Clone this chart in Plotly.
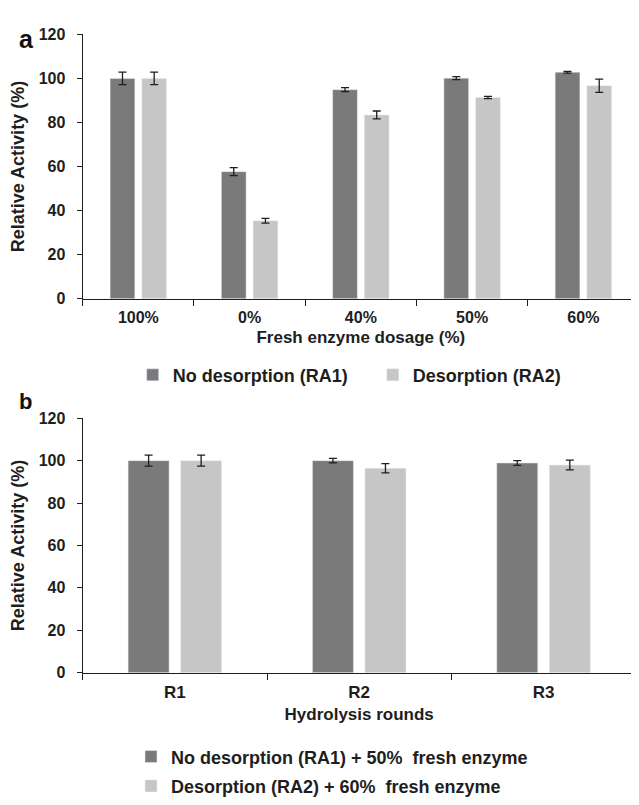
import plotly.graph_objects as go

# Panel a data
cats_a = ["100%", "0%", "40%", "50%", "60%"]
ra1_a = [100.0, 57.7, 94.9, 100.1, 102.8]
ra1_a_err = [2.8, 1.8, 0.9, 0.7, 0.4]
ra2_a = [100.0, 35.4, 83.4, 91.3, 96.7]
ra2_a_err = [2.8, 1.1, 1.8, 0.5, 3.0]

# Panel b data
cats_b = ["R1", "R2", "R3"]
ra1_b = [100.0, 100.0, 98.9]
ra1_b_err = [2.6, 1.1, 1.1]
ra2_b = [100.0, 96.4, 97.9]
ra2_b_err = [2.6, 2.2, 2.3]

y_ticks = [0, 20, 40, 60, 80, 100, 120]

DARK = "#7a7a7a"
LIGHT = "#c6c6c6"
INK = "#1e1e1e"
FONT = "Liberation Sans, Arial, sans-serif"

# page has an 8px body margin; figure sized to fit the 639x805 window
OFF = 8
W, H = 631, 797

def px(X):
    return (X - OFF) / W

def py(Y):
    return 1 - (Y - OFF) / H

def err(vals):
    return dict(type="data", array=vals, visible=True, color=INK, thickness=1.3, width=4)

fig = go.Figure()
fig.add_trace(go.Bar(x=cats_a, y=ra1_a, error_y=err(ra1_a_err), marker_color=DARK,
                     name="No desorption (RA1)", xaxis="x", yaxis="y", legend="legend"))
fig.add_trace(go.Bar(x=cats_a, y=ra2_a, error_y=err(ra2_a_err), marker_color=LIGHT,
                     name="Desorption (RA2)", xaxis="x", yaxis="y", legend="legend2"))
fig.add_trace(go.Bar(x=cats_b, y=ra1_b, error_y=err(ra1_b_err), marker_color=DARK,
                     name="No desorption (RA1) + 50%\u00a0 fresh enzyme", xaxis="x2", yaxis="y2",
                     legend="legend3"))
fig.add_trace(go.Bar(x=cats_b, y=ra2_b, error_y=err(ra2_b_err), marker_color=LIGHT,
                     name="Desorption (RA2) + 60%\u00a0 fresh enzyme", xaxis="x2", yaxis="y2",
                     legend="legend4"))

common_y = dict(range=[0, 120], tickvals=y_ticks, showgrid=False, zeroline=False,
                showline=True, linecolor=INK, linewidth=1.2, ticks="outside", ticklen=5,
                tickcolor=INK, ticklabelstandoff=8,
                tickfont=dict(family=FONT, size=16, color=INK, weight="bold"),
                title_font=dict(family=FONT, size=18, color=INK, weight="bold"))
common_x = dict(showgrid=False, zeroline=False, showline=True, linecolor=INK, linewidth=1.2,
                ticks="outside", ticklen=6, tickcolor=INK, tickson="boundaries",
                ticklabelstandoff=4,
                title_font=dict(family=FONT, size=17, color=INK, weight="bold"))

leg_font = dict(family=FONT, size=18, color=INK, weight="bold")

def leg(xtext, ycenter):
    return dict(orientation="v", x=px(xtext - 40), xanchor="left", y=py(ycenter), yanchor="middle",
                font=leg_font, itemwidth=30, bgcolor="rgba(0,0,0,0)")

fig.update_layout(
    width=W, height=H, margin=dict(l=0, r=0, t=0, b=0),
    paper_bgcolor="white", plot_bgcolor="white",
    barmode="group", bargap=0.43, bargroupgap=0.22,
    font=dict(family=FONT, color=INK),
    xaxis=dict(domain=[px(82.7), px(639)], anchor="y",
               title=dict(text="Fresh enzyme dosage (%)", standoff=5),
               tickfont=dict(family=FONT, size=16, color=INK, weight="bold"), **common_x),
    yaxis=dict(domain=[py(297), py(26.7)], anchor="x",
               title=dict(text="Relative Activity (%)", standoff=10), **common_y),
    xaxis2=dict(domain=[px(82.7), px(635.7)], anchor="y2",
                title=dict(text="Hydrolysis rounds", standoff=6),
                tickfont=dict(family=FONT, size=17, color=INK, weight="bold"), **common_x),
    yaxis2=dict(domain=[py(679), py(419)], anchor="x2",
                title=dict(text="Relative Activity (%)", standoff=10), **common_y),
    legend=leg(172.7, 375),
    legend2=leg(412.8, 375),
    legend3=leg(171, 765),
    legend4=leg(171, 795),
    showlegend=True,
    annotations=[
        dict(text="<b>a</b>", x=px(17), y=py(15), xref="paper", yref="paper",
             showarrow=False, font=dict(family=FONT, size=25, color="#111")),
        dict(text="<b>b</b>", x=px(17), y=py(402), xref="paper", yref="paper",
             showarrow=False, font=dict(family=FONT, size=22, color="#111")),
    ],
)

fig.write_html("out.html")
